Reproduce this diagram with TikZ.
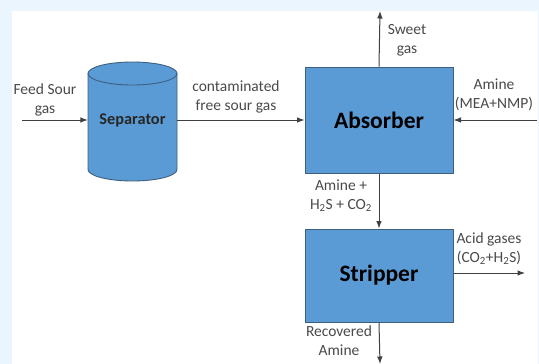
\documentclass[tikz,border=0pt]{standalone}
\usepackage{fontspec}
\setmainfont{Carlito}
\usetikzlibrary{arrows.meta}
\definecolor{pagebg}{HTML}{EAF5FD}
\definecolor{unitfill}{HTML}{5B9BD5}
\definecolor{unitborder}{HTML}{3F5F7F}
\definecolor{labelgray}{HTML}{4A4A4A}
\definecolor{flowline}{HTML}{404040}

\begin{document}
\begin{tikzpicture}[
    x=1pt, y=-1pt,
    >=Latex,
    unit/.style={draw=unitborder, fill=unitfill, line width=1pt, minimum width=148pt, minimum height=106pt, font=\bfseries\fontsize{23.5}{26}\selectfont, text=black},
    vesselline/.style={draw=unitborder, fill=unitfill, line width=0.9pt},
    vessel/.style={minimum width=89pt, minimum height=96pt, inner sep=0pt, font=\bfseries\fontsize{16.3}{19}\selectfont, text=black!85},
    flow/.style={->, line width=1pt, flowline},
    lbl/.style={text=labelgray, align=center, font=\fontsize{15.5}{19}\selectfont, inner sep=0pt}
]
    \useasboundingbox (0,0) rectangle (539,364);

    % page background
    \fill[pagebg] (0,0) rectangle (539,364);
    \fill[white] (12,10.5) rectangle (538,364);

    % separator drum
    \filldraw[vesselline] (88,73.5) -- (88,169.5)
        arc[start angle=180, end angle=360, x radius=44.5pt, y radius=11.5pt] -- (177,73.5) -- cycle;
    \filldraw[vesselline] (132.5,73.5) ellipse [x radius=44.5pt, y radius=11.5pt];
    \node[vessel] (sep) at (132.5,120) {Separator};

    % units
    \node[unit] (abs) at (379,120) {Absorber};
    \node[unit, minimum height=93pt] (strip) at (379,275.5) {Stripper};

    % free ends
    \coordinate (feed) at (22,120);
    \coordinate (sweet) at (380,11);
    \coordinate (amine) at (537,120);
    \coordinate (acid) at (525,273);
    \coordinate (lean) at (380,364);

    % flow arrows
    \draw[flow] (feed) -- (sep.west);
    \draw[flow] (sep.east) -- (abs.west);
    \draw[flow] (abs.north) -- (sweet);
    \draw[flow] (amine) -- (abs.east);
    \draw[flow] (abs.south) -- (strip.north);
    \draw[flow] (strip.east |- acid) -- (acid);
    \draw[flow] (strip.south) -- (lean);

    % stream labels
    \node[lbl] (feedlbl) at (45,100) {Feed Sour\\gas};
    \node[lbl] (freelbl) at (236,97) {contaminated\\free sour gas};
    \node[lbl] (sweetlbl) at (407,40) {Sweet\\gas};
    \node[lbl] (aminelbl) at (494,95) {Amine\\(MEA+NMP)};
    \node[lbl] (richlbl) at (341,196) {Amine +\\H\textsubscript{2}S + CO\textsubscript{2}};
    \node[lbl] (acidlbl) at (489,249) {Acid gases\\(CO\textsubscript{2}+H\textsubscript{2}S)};
    \node[lbl] (leanlbl) at (339,341) {Recovered\\Amine};

\end{tikzpicture}
\end{document}
